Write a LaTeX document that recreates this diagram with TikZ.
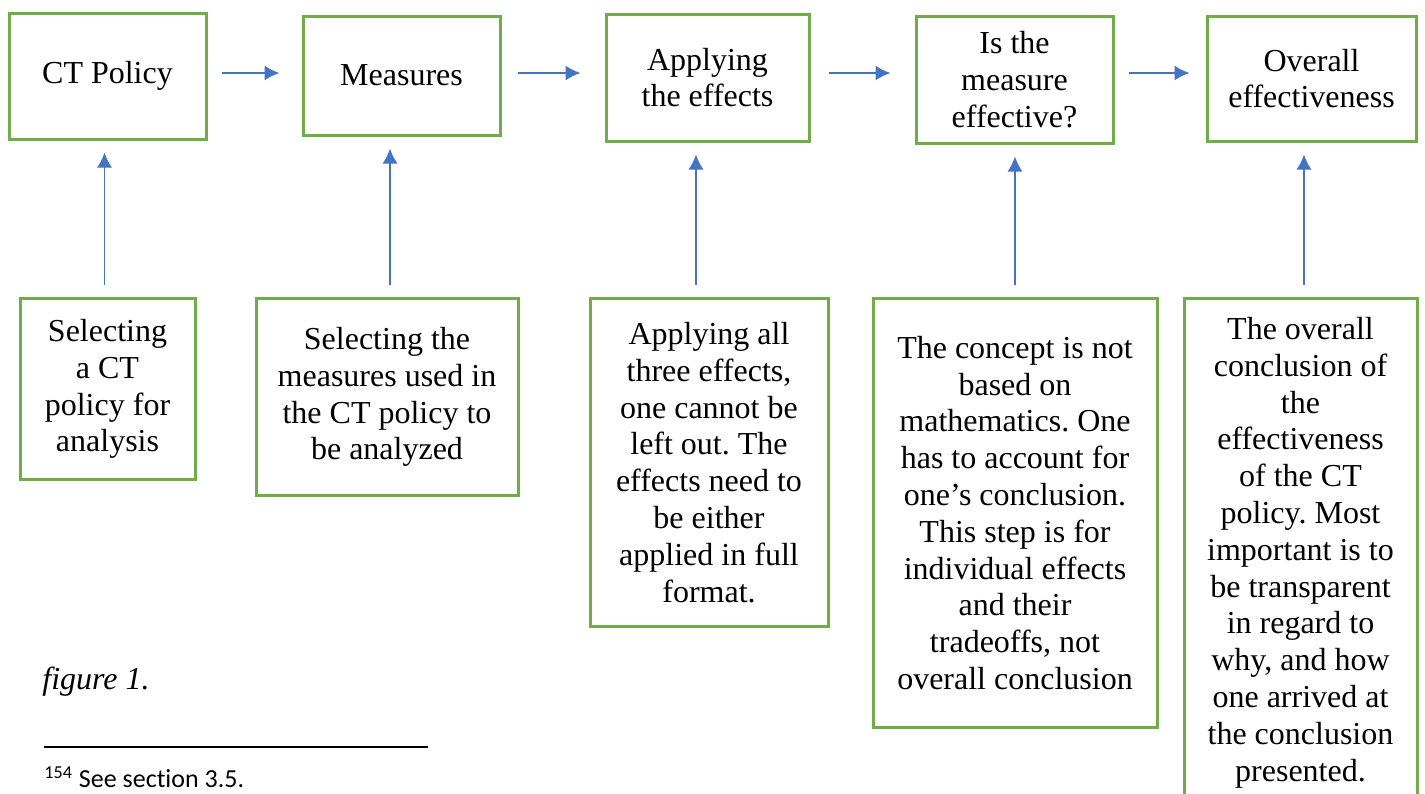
\documentclass[tikz,border=0pt]{standalone}
\usepackage{fontspec}
\setmainfont{Liberation Serif}
\newfontfamily\footfont[Ligatures=NoCommon]{Carlito}
\usetikzlibrary{arrows.meta,positioning}
\definecolor{boxgreen}{HTML}{70AD47}
\definecolor{arrowblue}{HTML}{4472C4}
\frenchspacing

\begin{document}
\begin{tikzpicture}[x=0.5pt,y=-0.5pt,
  stepbox/.style={draw=boxgreen,line width=1.5pt,align=center,inner sep=0pt,font=\fontsize{16}{18.4}\selectfont},
  flow/.style={draw=arrowblue,line width=0.8pt,-{Latex[length=7.5pt,width=7.5pt]}}]
\useasboundingbox (0,0) rectangle (1425,793);
%top row of steps
\node[stepbox,minimum width=98.5pt,minimum height=63pt] (ct) at (107.5,76) {CT Policy};
\node[stepbox,minimum width=98.5pt,minimum height=59.5pt] (meas) at (401.5,75.5) {Measures};
\node[stepbox,minimum width=101.5pt,minimum height=63.5pt] (appl) at (707.5,77.5) {Applying\\the effects};
\node[stepbox,minimum width=98.5pt,minimum height=63.5pt] (isme) at (1014.5,79.5) {Is the\\measure\\effective?};
\node[stepbox,minimum width=104.5pt,minimum height=62.5pt] (overall) at (1311.5,78.5) {Overall\\effectiveness};
%arrows between steps
\draw[flow,shorten <=7pt,shorten >=11pt] (ct.east |- 0,73) -- (meas.west |- 0,73);
\draw[flow,shorten <=8pt,shorten >=12pt] (meas.east |- 0,73) -- (appl.west |- 0,73);
\draw[flow,shorten <=9pt,shorten >=12pt] (appl.east |- 0,73) -- (isme.west |- 0,73);
\draw[flow,shorten <=7pt,shorten >=8pt] (isme.east |- 0,73) -- (overall.west |- 0,73);
%explanations below
\node[stepbox,anchor=north,minimum width=87.5pt,minimum height=90.5pt] (selct) at (107.5,297) {Selecting\\a CT\\policy for\\analysis};
\node[stepbox,anchor=north,minimum width=131pt,minimum height=98.5pt] (selmeas) at (387,297) {Selecting the\\measures used in\\the CT policy to\\be analyzed};
\node[stepbox,anchor=north,minimum width=119pt,minimum height=164pt] (applall) at (709,297) {Applying all\\three effects,\\one cannot be\\left out. The\\effects need to\\be either\\applied in full\\format.};
\node[stepbox,anchor=north,minimum width=142pt,minimum height=214.5pt] (concept) at (1015,297) {The concept is not\\based on\\mathematics. One\\has to account for\\one’s conclusion.\\This step is for\\individual effects\\and their\\tradeoffs, not\\overall conclusion};
\node[stepbox,anchor=north,minimum width=116.5pt,minimum height=254pt] (concl) at (1300.5,297) {The overall\\conclusion of\\the\\effectiveness\\of the CT\\policy. Most\\important is to\\be transparent\\in regard to\\why, and how\\one arrived at\\the conclusion\\presented.};
%arrows up
\draw[flow,shorten <=6pt,shorten >=6pt] ([xshift=-1.5pt]selct.north) -- ([xshift=-1.5pt]selct.north |- ct.south);
\draw[flow,shorten <=6pt,shorten >=6pt] ([xshift=1.5pt]selmeas.north) -- ([xshift=1.5pt]selmeas.north |- meas.south);
\draw[flow,shorten <=6pt,shorten >=6pt] ([xshift=-6.5pt]applall.north) -- ([xshift=-6.5pt]applall.north |- appl.south);
\draw[flow,shorten <=6pt,shorten >=6pt] (concept.north) -- (concept.north |- isme.south);
\draw[flow,shorten <=6pt,shorten >=6pt] ([xshift=1.75pt]concl.north) -- ([xshift=1.75pt]concl.north |- overall.south);
%caption and footnote
\node[anchor=base west,inner sep=0pt,font=\fontsize{16}{18.4}\selectfont\itshape] (fig) at (42,689) {figure 1.};
\draw[line width=1pt] (44,747) -- (428,747);
\node[anchor=base west,inner sep=0pt,font=\footfont\fontsize{13}{15}\selectfont] (fn) at (44,787) {\textsuperscript{154} See section 3.5.};
\end{tikzpicture}
\end{document}
